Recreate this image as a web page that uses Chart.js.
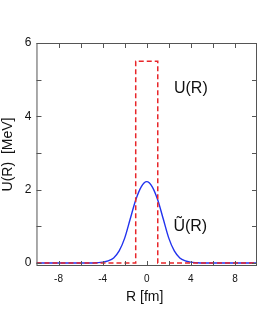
<!DOCTYPE html>
<html>
<head>
<meta charset="utf-8">
<script src="https://cdn.jsdelivr.net/npm/chart.js@4.4.1/dist/chart.umd.min.js"></script>
<style>
  html, body { margin: 0; padding: 0; background: #fff; }
  #wrap { width: 258px; height: 333px; }
</style>
</head>
<body>
<div id="wrap"><canvas id="chart"></canvas></div>
<script>
// --- Data ---
// step potential U(R)
const stepR = [-10, -1, -1, 1, 1, 10];
const stepU = [0, 0, 5.5, 5.5, 0, 0];

// smoothed potential U~(R)
const smoothR = [-10, -5, -4.5, -4, -3.5, -3, -2.5, -2, -1.5, -1, -0.5, 0, 0.5, 1, 1.5, 2, 2.5, 3, 3.5, 4, 4.5, 5, 10];
const smoothU = [0, 0, 0.01, 0.025, 0.06, 0.14, 0.33, 0.68, 1.2, 1.72, 2.08, 2.22, 2.08, 1.72, 1.2, 0.68, 0.33, 0.14, 0.06, 0.025, 0.01, 0, 0];

// tick labels
const xTicks = [-8, -4, 0, 4, 8];
const xMinor = [-6, -2, 2, 6];
const yTicks = [0, 2, 4, 6];
const yMinor = [1, 3, 5];

const FONT = "'Liberation Sans', Arial, sans-serif";
const AXIS = "#555";

const toPoints = (xs, ys) => xs.map((x, i) => ({ x: x, y: ys[i] }));

// frame + inward ticks on all four sides, x title and the two curve labels
const framePlugin = {
  id: "frame",
  afterDraw(chart) {
    const { ctx, chartArea: a, scales } = chart;
    const xs = scales.x, ys = scales.y;
    ctx.save();
    ctx.strokeStyle = AXIS;
    ctx.lineWidth = 1;
    ctx.strokeRect(a.left + 0.5, a.top + 0.5, a.right - a.left - 1, a.bottom - a.top - 1);

    const len = 5;
    ctx.beginPath();
    xTicks.concat(xMinor).forEach((v) => {
      const px = Math.round(xs.getPixelForValue(v)) + 0.5;
      ctx.moveTo(px, a.bottom); ctx.lineTo(px, a.bottom - len);
      ctx.moveTo(px, a.top); ctx.lineTo(px, a.top + len);
    });
    yTicks.concat(yMinor).forEach((v) => {
      const py = Math.round(ys.getPixelForValue(v)) + 0.5;
      ctx.moveTo(a.left, py); ctx.lineTo(a.left + len, py);
      ctx.moveTo(a.right, py); ctx.lineTo(a.right - len, py);
    });
    ctx.stroke();

    ctx.fillStyle = "#111";
    ctx.textAlign = "center";
    ctx.textBaseline = "middle";
    ctx.font = "14px " + FONT;
    ctx.fillText("R [fm]", (a.left + a.right) / 2 - 2, a.bottom + 31);
    ctx.font = "16px " + FONT;
    ctx.fillText("U(R)", xs.getPixelForValue(4), ys.getPixelForValue(4.75));
    ctx.fillText("Ũ(R)", xs.getPixelForValue(3.95), ys.getPixelForValue(1.0));
    ctx.restore();
  },
};

new Chart(document.getElementById("chart"), {
  type: "line",
  data: {
    datasets: [
      {
        label: "U(R)",
        data: toPoints(stepR, stepU),
        borderColor: "#e8262a",
        borderWidth: 1.5,
        borderDash: [5, 3],
        pointRadius: 0,
        tension: 0,
        order: 0,
      },
      {
        label: "U~(R)",
        data: toPoints(smoothR, smoothU),
        borderColor: "#2233ee",
        borderWidth: 1.4,
        pointRadius: 0,
        cubicInterpolationMode: "monotone",
        order: 1,
      },
    ],
  },
  options: {
    responsive: true,
    maintainAspectRatio: false,
    animation: false,
    layout: { padding: { top: 43, right: 1, bottom: 41, left: 0 } },
    plugins: { legend: { display: false }, tooltip: { enabled: false } },
    scales: {
      x: {
        type: "linear",
        min: -10,
        max: 10,
        afterBuildTicks: (s) => { s.ticks = xTicks.map((v) => ({ value: v })); },
        grid: { display: false, drawTicks: false },
        border: { display: false },
        ticks: { color: "#111", font: { family: FONT, size: 10 }, padding: 7, maxRotation: 0 },
        title: { display: false },
      },
      y: {
        type: "linear",
        min: -0.08,
        max: 6,
        afterBuildTicks: (s) => { s.ticks = yTicks.map((v) => ({ value: v })); },
        grid: { display: false, drawTicks: false },
        border: { display: false },
        ticks: { color: "#111", font: { family: FONT, size: 12 }, padding: 5 },
        title: { display: true, text: "U(R)  [MeV]", color: "#111", font: { family: FONT, size: 14 }, padding: { top: 0, bottom: 3 } },
      },
    },
  },
  plugins: [framePlugin],
});
</script>
</body>
</html>
